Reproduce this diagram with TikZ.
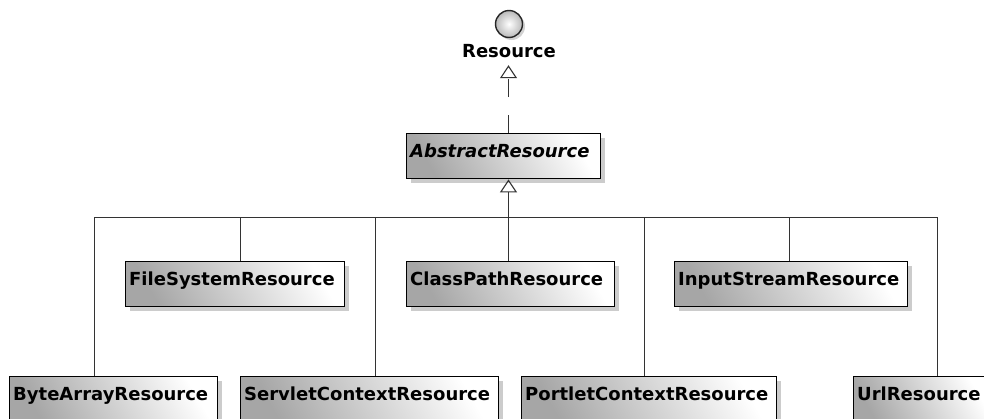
\documentclass[tikz,border=0pt]{standalone}
\usepackage{fontspec}
\setmainfont{DejaVu Sans}
\usetikzlibrary{arrows.meta,shadows}
\begin{document}
\begin{tikzpicture}[x=1pt,y=-1pt,
  lbl/.style={font=\fontsize{18}{20}\selectfont\bfseries},
  cls/.style={lbl, draw=black, line width=1.4pt, anchor=north west,
    inner xsep=3.5pt, inner ysep=0pt, align=left,
    text height=23.5pt, text depth=21.5pt,
    top color=white, bottom color=gray!70, shading angle=-60,
    drop shadow={shadow xshift=4pt, shadow yshift=-4pt, fill=gray!40, opacity=1}},
  link/.style={draw=black!80, line width=1pt},
  inh/.style={link, -{Triangle[open, length=13pt, width=17pt, line width=1.1pt]}},
]
\useasboundingbox (0,0) rectangle (984,418);
\clip (0,0) rectangle (984,418);

% interface
\node[circle, draw=black!85, line width=1.4pt, minimum size=27pt, inner sep=0pt,
  inner color=white, outer color=gray!55,
  drop shadow={shadow xshift=2.5pt, shadow yshift=-2.5pt, fill=gray!35, opacity=1}] (ifc) at (509,24) {};
\node[lbl, inner sep=0pt, text depth=8pt, anchor=base] (res) at (509,57) {Resource};

% classes
\node[cls, text width=187pt, font=\fontsize{18}{20}\selectfont\bfseries\itshape] (abs) at (406,133) {AbstractResource};
\node[cls, text width=212pt] (fs) at (125,261) {FileSystemResource};
\node[cls, text width=201pt] (cp) at (406,261) {ClassPathResource};
\node[cls, text width=226pt] (is) at (674,261) {InputStreamResource};
\node[cls, text width=201pt] (ba) at (9,376) {ByteArrayResource};
\node[cls, text width=251pt] (sc) at (240,376) {ServletContextResource};
\node[cls, text width=248pt] (pc) at (521,376) {PortletContextResource};
\node[cls, text width=130pt] (url) at (853,376) {UrlResource};

% generalization tree
\coordinate (bus) at (508.5,217.5);
\draw[inh] (bus) -- (bus |- abs.south);
\draw[link] ([xshift=-19pt]ba.north) |- (bus);
\draw[link] ([xshift=5.5pt]fs.north) |- (bus);
\draw[link] ([xshift=6pt]sc.north) |- (bus);
\draw[link] (bus |- cp.north) -- (bus);
\draw[link] ([xshift=-4.5pt]pc.north) |- (bus);
\draw[link] ([xshift=-1.5pt]is.north) |- (bus);
\draw[link] ([xshift=15.5pt]url.north) |- (bus);

% realization
\draw[inh, dash pattern=on 18pt off 18pt] (bus |- abs.north) -- (bus |- res.south);
\end{tikzpicture}
\end{document}
